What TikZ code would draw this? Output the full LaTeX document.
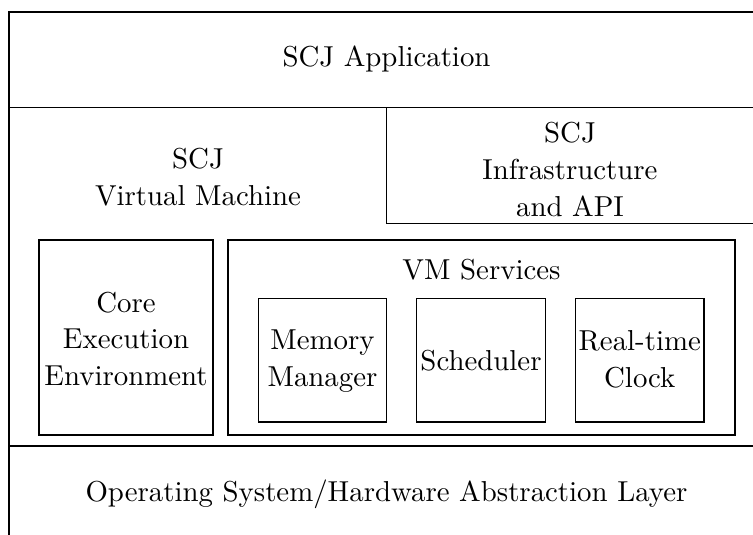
\documentclass[tikz,border=0pt]{standalone}
\usetikzlibrary{fit}
\begin{document}
\begin{tikzpicture}[x=0.352pt,y=-0.352pt,
  font=\fontsize{10.15}{12.9}\selectfont,
  frame/.style={draw, line width=0.45pt},
  box/.style={draw, line width=0.45pt, inner sep=0pt},
  label/.style={align=center, inner sep=0pt, anchor=base}]
  \useasboundingbox (0,0) rectangle (753,534);
  \clip (0,0) rectangle (753,534);
  % outer layered frame (runs past the right and bottom edges)
  \coordinate (tl) at (9,12);
  \coordinate (tr) at (770,12);
  \coordinate (bl) at (9,560);
  \draw[frame] (bl) -- (tl) -- (tr);
  \draw[frame] (9,107.5) -- (770,107.5);
  \draw[frame] (9,446) -- (770,446);
  % SCJ infrastructure box
  \draw[frame] (770,223.3) -- (386.7,223.3) -- (386.7,107.5);

  % multi-line labels are placed by the baseline of their last line
  \node[label] (app) at (386.5,66) {SCJ Application};
  \node[label] (vm) at (198,205) {SCJ\\Virtual Machine};
  \node[label] (infra) at (570,216) {SCJ\\Infrastructure\\and API};

  \node[box, fit={(39,240) (213,435)}] (core) {};
  \node[label] (coretxt) at (126,385.3) {Core\\Execution\\Environment};

  \node[box, fit={(228,240) (735,435)}] (services) {};
  \node[label] (servtxt) at (481.5,279.3) {VM Services};

  \node[box, fit={(258.3,298.7) (386.7,422)}] (mem) {};
  \node[label] (memtxt) at (322.5,386.5) {Memory\\Manager};
  \node[box, fit={(416.7,298.7) (545.3,422)}] (sched) {};
  \node[label] (schedtxt) at (481,370) {Scheduler};
  \node[box, fit={(575.7,298.7) (704,422)}] (clock) {};
  \node[label] (clocktxt) at (639.8,387.5) {Real-time\\Clock};

  \node[label] (os) at (386.5,501) {Operating System/Hardware Abstraction Layer};
\end{tikzpicture}
\end{document}
